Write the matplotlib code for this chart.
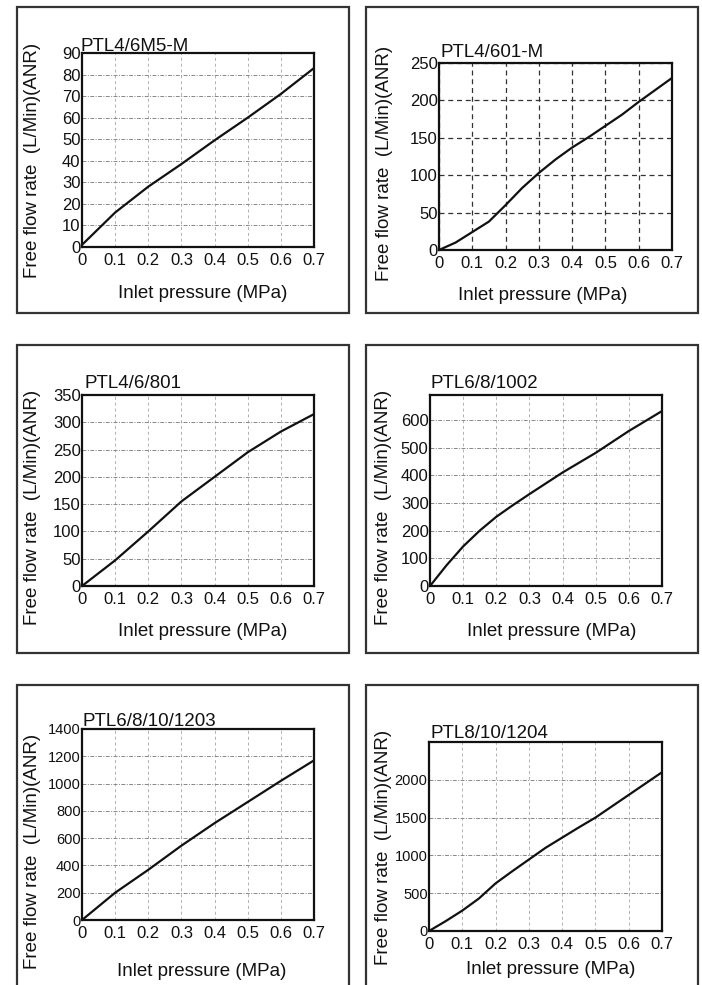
import matplotlib.pyplot as plt
from matplotlib.patches import Rectangle

plt.rcParams['font.family'] = ['Liberation Sans', 'DejaVu Sans']

# -------------------------
# Data
# -------------------------
titles = ["PTL4/6M5-M", "PTL4/601-M", "PTL4/6/801",
          "PTL6/8/1002", "PTL6/8/10/1203", "PTL8/10/1204"]

x_ticks = [0, 0.1, 0.2, 0.3, 0.4, 0.5, 0.6, 0.7]
x_labels = ["0", "0.1", "0.2", "0.3", "0.4", "0.5", "0.6", "0.7"]

p1_x = [0, 0.1, 0.2, 0.3, 0.4, 0.5, 0.6, 0.7]
p1_y = [1, 16, 28, 38.5, 49.5, 60, 71, 83]

p2_x = [0, 0.05, 0.1, 0.15, 0.2, 0.25, 0.3, 0.35, 0.4, 0.45, 0.5, 0.55, 0.6, 0.65, 0.7]
p2_y = [0, 10, 24, 38, 60, 83, 103, 121, 137, 151, 166, 181, 198, 214, 230]

p3_x = [0, 0.1, 0.2, 0.3, 0.4, 0.5, 0.6, 0.7]
p3_y = [0, 47, 100, 155, 200, 245, 283, 315]

p4_x = [0, 0.05, 0.1, 0.15, 0.2, 0.25, 0.3, 0.4, 0.5, 0.6, 0.7]
p4_y = [0, 75, 143, 200, 250, 292, 332, 410, 481, 560, 632]

p5_x = [0, 0.1, 0.2, 0.3, 0.4, 0.5, 0.6, 0.7]
p5_y = [0, 200, 368, 545, 710, 865, 1020, 1170]

p6_x = [0, 0.05, 0.1, 0.15, 0.2, 0.25, 0.3, 0.35, 0.4, 0.45, 0.5, 0.55, 0.6, 0.65, 0.7]
p6_y = [0, 130, 270, 430, 630, 790, 945, 1100, 1235, 1370, 1500, 1650, 1800, 1950, 2100]

y_max = [90, 250, 350, 690, 1400, 2500]
y_ticks = [list(range(0, 91, 10)), list(range(0, 251, 50)), list(range(0, 351, 50)),
           list(range(0, 601, 100)), list(range(0, 1401, 200)), list(range(0, 2001, 500))]

series = [(p1_x, p1_y), (p2_x, p2_y), (p3_x, p3_y),
          (p4_x, p4_y), (p5_x, p5_y), (p6_x, p6_y)]

# -------------------------
# Layout in pixels (x0, y0, x1, y1), y from top
# -------------------------
W, H = 702, 985
boxes = [(17, 7, 349, 313), (366, 7, 698, 313),
         (17, 345, 349, 653), (366, 345, 698, 653),
         (17, 685, 349, 995), (366, 685, 698, 995)]
axes_px = [(82, 53, 314, 247), (439, 63, 672, 250),
           (82, 395, 314, 586), (430, 395, 662, 586),
           (82, 729, 314, 920), (429, 742, 662, 931)]
title_px = [(80, 51), (441, 57), (85, 388), (430, 388), (82, 726), (430, 738)]
ylab_px = [(33, 160), (384, 163), (33, 507), (383, 507), (33, 851), (383, 847)]
xlab_px = [(203, 293), (543, 295), (203, 632), (552, 632), (202, 972), (551, 970)]

fig = plt.figure(figsize=(W / 100, H / 100), dpi=100)

def fx(x):
    return x / W

def fy(y):
    return 1 - y / H

txt = '#111111'

for i in range(6):
    bx0, by0, bx1, by1 = boxes[i]
    fig.add_artist(Rectangle((fx(bx0), fy(by1)), (bx1 - bx0) / W, (by1 - by0) / H,
                             transform=fig.transFigure, fill=False, lw=1.6, ec='#333333'))

    ax0, ay0, ax1, ay1 = axes_px[i]
    ax = fig.add_axes([fx(ax0), fy(ay1), (ax1 - ax0) / W, (ay1 - ay0) / H])
    x, y = series[i]
    ax.plot(x, y, color='#111111', lw=1.6, zorder=3)
    ax.set_xlim(0, 0.7)
    ax.set_ylim(0, y_max[i])
    ax.set_xticks(x_ticks)
    ax.set_xticklabels(x_labels)
    ax.set_yticks(y_ticks[i])

    tsize = 10.5 if i >= 4 else 12
    ax.tick_params(axis='x', length=0, pad=4, labelsize=12, colors=txt)
    ax.tick_params(axis='y', length=0, pad=1, labelsize=tsize, colors=txt)
    for s in ax.spines.values():
        s.set_linewidth(1.6)
        s.set_color('#111111')

    if i == 1:
        ax.grid(True, color='#333333', lw=0.9, ls=(0, (4, 3)))
    else:
        ax.grid(True, axis='y', color='#888888', lw=0.7, ls=(0, (4, 1.5, 1, 1.5)))
        ax.grid(True, axis='x', color='#b0b0b0', lw=0.7, ls=(0, (3, 3)))
    ax.set_axisbelow(True)

    tx, ty = title_px[i]
    fig.text(fx(tx), fy(ty), titles[i], fontsize=13.5, color=txt, ha='left', va='baseline')
    lx, ly = ylab_px[i]
    fig.text(fx(lx), fy(ly), "Free flow rate  (L/Min)(ANR)", fontsize=13.5, color=txt,
             rotation=90, ha='center', va='center')
    lx, ly = xlab_px[i]
    fig.text(fx(lx), fy(ly), "Inlet pressure (MPa)", fontsize=13.5, color=txt,
             ha='center', va='center')

fig.savefig("out.png", dpi=100)
